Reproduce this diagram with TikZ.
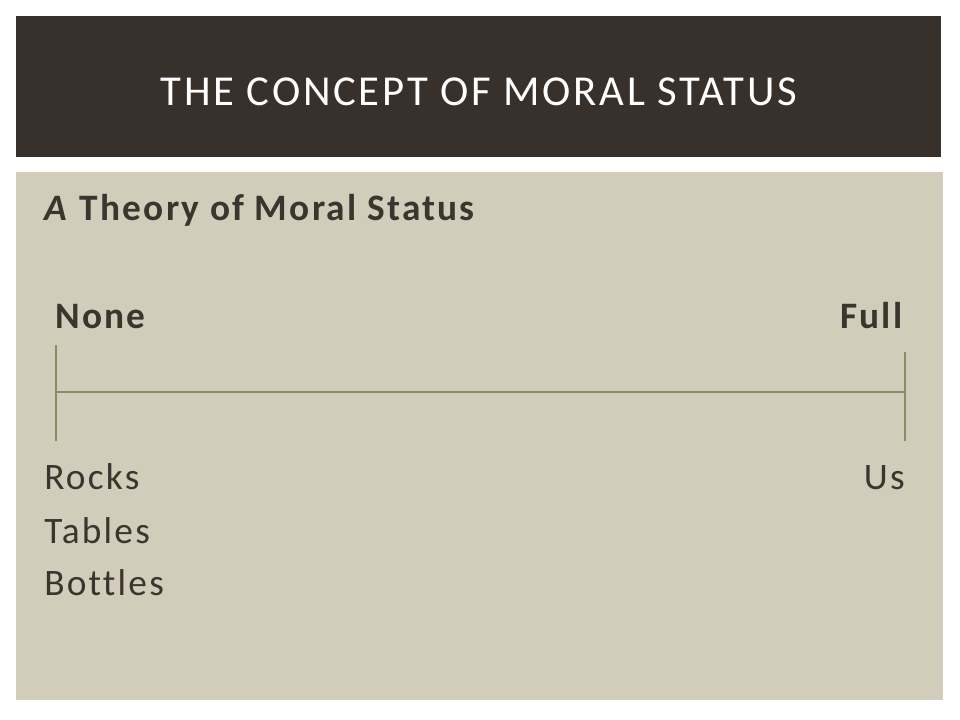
\documentclass[tikz,border=0pt]{standalone}
\usepackage{fontspec}
\setmainfont{Carlito}
\newfontfamily\titlefont[LetterSpace=6.5, Ligatures=NoCommon]{Carlito}
\newfontfamily\bodyfont[LetterSpace=6, Ligatures=NoCommon]{Carlito}
\usetikzlibrary{positioning}
\definecolor{titlebg}{RGB}{56, 48, 43}
\definecolor{slidebg}{RGB}{210, 204, 186}
\definecolor{inkbrown}{RGB}{59, 52, 47}
\definecolor{scaleline}{RGB}{140, 138, 96}

\begin{document}
\begin{tikzpicture}[x=0.75pt, y=-0.75pt,
    heading/.style={anchor=base, text=white, inner sep=0pt,
                    font=\titlefont\fontsize{32}{38}\selectfont},
    label/.style={anchor=base west, text=inkbrown, inner sep=0pt,
                  font=\bodyfont\fontsize{28}{34}\selectfont},
    rlabel/.style={label, anchor=base east},
    scale line/.style={draw=scaleline, line width=0.8pt}]

    % Background and panels
    \fill[white] (0, 0) rectangle (960, 720);
    \fill[titlebg] (16, 16) rectangle (941, 157);
    \fill[slidebg] (16, 172) rectangle (943, 700);

    % Title
    \node[heading] (title) at (479, 106) {THE CONCEPT OF MORAL STATUS};

    % Subtitle and end points
    \node[label] (theory) at (44, 221) {\textbf{\textit{A} Theory of Moral Status}};
    \node[label] (none) at (55, 328) {\textbf{None}};
    \node[rlabel] (full) at (905, 328) {\textbf{Full}};

    % Scale
    \coordinate (lefttop) at (56, 345);
    \coordinate (leftbot) at (56, 441);
    \coordinate (righttop) at (905, 352);
    \coordinate (rightbot) at (905, 441);
    \coordinate (leftmid) at (56, 392);
    \coordinate (rightmid) at (905, 392);
    \draw[scale line] (lefttop) -- (leftbot);
    \draw[scale line] (righttop) -- (rightbot);
    \draw[scale line] (leftmid) -- (rightmid);

    % Examples
    \node[label] (rocks) at (44, 489) {Rocks};
    \node[label] (tables) at (44, 543) {Tables};
    \node[label] (bottles) at (44, 595) {Bottles};
    \node[rlabel] (us) at (905, 489) {Us};
\end{tikzpicture}
\end{document}
